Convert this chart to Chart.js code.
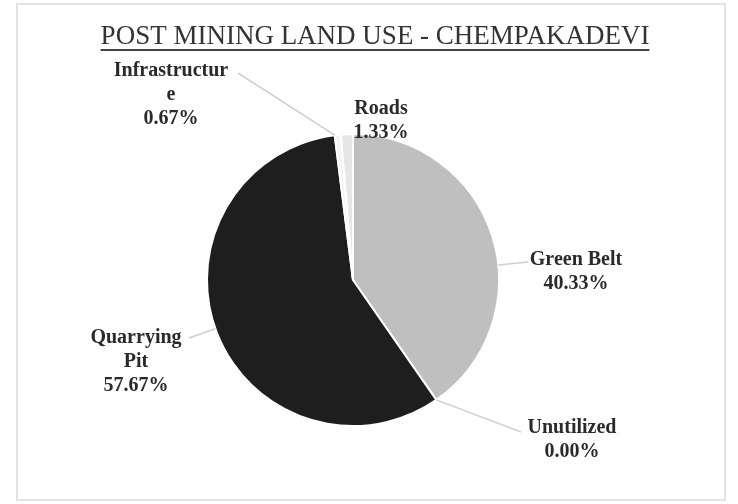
<!DOCTYPE html>
<html>
<head>
<meta charset="utf-8">
<script src="https://cdn.jsdelivr.net/npm/chart.js@4/dist/chart.umd.min.js"></script>
<style>
  body { margin: 0; background: #fff; }
  #wrap { position: relative; width: 738px; height: 504px; }
  #frame {
    position: absolute; left: 16px; top: 3px; width: 706px; height: 494px;
    border: 2px solid #e2e2e2; pointer-events: none;
  }
</style>
</head>
<body>
<div id="wrap">
  <canvas id="chart" width="738" height="504"></canvas>
  <div id="frame"></div>
</div>
<script>
const chartTitle = "POST MINING LAND USE - CHEMPAKADEVI";
const categories = ["Green Belt", "Unutilized", "Quarrying Pit", "Infrastructure", "Roads"];
const shares = [40.33, 0.00, 57.67, 0.67, 1.33];
// label text as wrapped on the original
const labelLines = [["Green Belt"], ["Unutilized"], ["Quarrying", "Pit"], ["Infrastructur", "e"], ["Roads"]];

const sliceColors = ["#bfbfbf", "#bfbfbf", "#1e1e1e", "#f4f4f4", "#e6e6e6"];
// where each label block sits (first line centre) and where its leader ends
const labelAt = [
  { x: 576, y: 260, lx: 528, ly: 262, leader: true },
  { x: 572, y: 428, lx: 521, ly: 432, leader: true },
  { x: 136, y: 338, lx: 189, ly: 338, leader: true },
  { x: 171, y: 71, lx: 238, ly: 73, leader: true },
  { x: 381, y: 109, lx: 0, ly: 0, leader: false },
];
const lineGap = 24;

const titlePlugin = {
  id: "underlinedTitle",
  afterDraw(chart) {
    const ctx = chart.ctx;
    ctx.save();
    ctx.font = "27px 'Liberation Serif', 'Times New Roman', serif";
    ctx.fillStyle = "#333";
    ctx.textAlign = "center";
    ctx.textBaseline = "alphabetic";
    const cx = 375, by = 44;
    ctx.fillText(chartTitle, cx, by);
    const w = ctx.measureText(chartTitle).width;
    ctx.strokeStyle = "#444";
    ctx.lineWidth = 2;
    ctx.beginPath();
    ctx.moveTo(cx - w / 2, by + 6);
    ctx.lineTo(cx + w / 2, by + 6);
    ctx.stroke();
    ctx.restore();
  }
};

const labelPlugin = {
  id: "pieLabels",
  afterDatasetsDraw(chart) {
    const ctx = chart.ctx;
    const arcs = chart.getDatasetMeta(0).data;
    ctx.save();
    arcs.forEach((arc, i) => {
      const pos = labelAt[i];
      const { x, y, startAngle, endAngle, outerRadius } = arc.getProps(["x", "y", "startAngle", "endAngle", "outerRadius"], true);
      if (pos.leader) {
        // nearest point of this slice's rim to the leader end
        let a = Math.atan2(pos.ly - y, pos.lx - x);
        while (a < startAngle) a += Math.PI * 2;
        while (a >= startAngle + Math.PI * 2) a -= Math.PI * 2;
        if (a > endAngle) {
          const dEnd = a - endAngle;
          const dStart = startAngle + Math.PI * 2 - a;
          a = dEnd < dStart ? endAngle : startAngle;
        }
        ctx.strokeStyle = "#cfcfcf";
        ctx.lineWidth = 1.5;
        ctx.beginPath();
        ctx.moveTo(x + Math.cos(a) * outerRadius, y + Math.sin(a) * outerRadius);
        ctx.lineTo(pos.lx, pos.ly);
        ctx.stroke();
      }
      const lines = labelLines[i].concat([shares[i].toFixed(2) + "%"]);
      ctx.font = "bold 20px 'Liberation Serif', 'Times New Roman', serif";
      ctx.fillStyle = "#2a2a2a";
      ctx.textAlign = "center";
      ctx.textBaseline = "middle";
      lines.forEach((t, k) => ctx.fillText(t, pos.x, pos.y + k * lineGap));
    });
    ctx.restore();
  }
};

new Chart(document.getElementById("chart"), {
  type: "pie",
  data: {
    labels: categories,
    datasets: [{
      data: shares,
      backgroundColor: sliceColors,
      borderColor: "#ffffff",
      borderWidth: 2,
    }]
  },
  options: {
    responsive: false,
    animation: false,
    layout: { padding: { left: 206, right: 238, top: 133, bottom: 77 } },
    plugins: {
      legend: { display: false },
      tooltip: { enabled: false },
      title: { display: false },
    }
  },
  plugins: [titlePlugin, labelPlugin]
});
</script>
</body>
</html>
